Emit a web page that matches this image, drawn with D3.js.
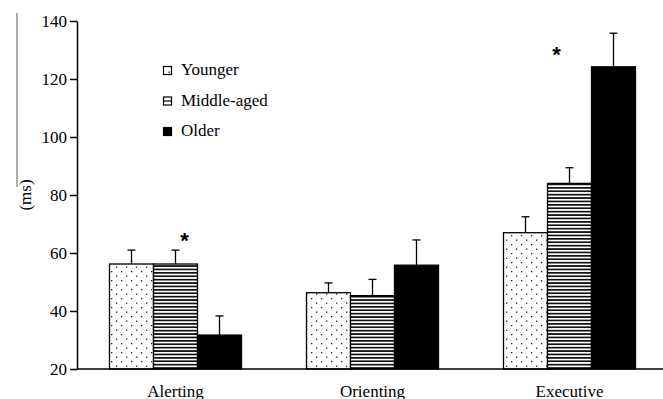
<!DOCTYPE html>
<html><head><meta charset="utf-8">
<script src="https://cdn.jsdelivr.net/npm/d3@7"></script>
<style>body{margin:0;background:#fff}svg{display:block}
svg text{font-family:"Liberation Serif","DejaVu Serif",serif;}
</style>
</head><body>
<svg id="c" width="663" height="399"></svg>
<script>
const categories = ["Alerting", "Orienting", "Executive"];
const groups = ["Younger", "Middle-aged", "Older"];
const younger = [56.2, 46.3, 67.0];
const youngerErr = [61.0, 49.7, 72.5];
const middle = [56.2, 45.3, 84.0];
const middleErr = [61.0, 50.9, 89.4];
const older = [31.7, 55.8, 124.2];
const olderErr = [38.3, 64.5, 135.8];
const yTicks = [20, 40, 60, 80, 100, 120, 140];
const significant = ["Alerting", "Executive"];

const svg = d3.select("#c");
const font = '"Liberation Serif", "DejaVu Serif", serif';
const y = d3.scaleLinear().domain([20, 140]).range([369, 21]);
const x0 = d3.scaleBand().domain(categories).range([77, 668]).paddingInner(0.33).paddingOuter(0.165);
const x1 = d3.scaleBand().domain(groups).range([0, x0.bandwidth()]);

const defs = svg.append("defs");
const dots = defs.append("pattern").attr("id", "dots").attr("patternUnits", "userSpaceOnUse")
  .attr("width", 10).attr("height", 9);
dots.append("rect").attr("width", 10).attr("height", 9).attr("fill", "#fff");
dots.append("rect").attr("x", 1).attr("y", 1).attr("width", 1.3).attr("height", 1.3).attr("fill", "#222");
dots.append("rect").attr("x", 6).attr("y", 5.5).attr("width", 1.3).attr("height", 1.3).attr("fill", "#222");
const lines = defs.append("pattern").attr("id", "lines").attr("patternUnits", "userSpaceOnUse")
  .attr("width", 8).attr("height", 3.4);
lines.append("rect").attr("width", 8).attr("height", 3.4).attr("fill", "#fff");
lines.append("rect").attr("y", 0).attr("width", 8).attr("height", 1.7).attr("fill", "#111");

const fills = {"Younger": "url(#dots)", "Middle-aged": "url(#lines)", "Older": "#000"};
const vals = {"Younger": younger, "Middle-aged": middle, "Older": older};
const errs = {"Younger": youngerErr, "Middle-aged": middleErr, "Older": olderErr};

const data = [];
categories.forEach((c, i) => groups.forEach(g => data.push({c, g, v: vals[g][i], e: errs[g][i]})));

// error bars
const eb = svg.append("g").attr("stroke", "#000").attr("stroke-width", 1.3);
data.forEach(d => {
  const cx = x0(d.c) + x1(d.g) + x1.bandwidth() / 2;
  eb.append("line").attr("x1", cx).attr("x2", cx).attr("y1", y(d.v)).attr("y2", y(d.e));
  eb.append("line").attr("x1", cx - 4).attr("x2", cx + 4).attr("y1", y(d.e)).attr("y2", y(d.e));
});

// bars
svg.append("g").selectAll("rect").data(data).join("rect")
  .attr("x", d => x0(d.c) + x1(d.g))
  .attr("y", d => y(d.v))
  .attr("width", x1.bandwidth())
  .attr("height", d => y(20) - y(d.v))
  .attr("fill", d => fills[d.g])
  .attr("stroke", "#000").attr("stroke-width", 1.3);

// y axis
const ya = svg.append("g").attr("transform", "translate(77,0)")
  .call(d3.axisLeft(y).tickValues(yTicks).tickSize(7).tickPadding(3).tickSizeOuter(0));
ya.attr("font-family", null);
ya.select(".domain").attr("stroke-width", 1.5);
ya.selectAll(".tick line").attr("stroke-width", 1.5);
ya.selectAll("text").style("font-family", font).style("font-size", "17px").attr("fill", "#000");

// x axis
const xa = svg.append("g").attr("transform", "translate(0,369)")
  .call(d3.axisBottom(x0).tickSize(0).tickPadding(16));
xa.attr("font-family", null);
xa.select(".domain").attr("d", "M77,0H663").attr("stroke-width", 1.5);
xa.selectAll("text").style("font-family", font).style("font-size", "17px").attr("fill", "#000");

// y label
svg.append("line").attr("x1", 17).attr("x2", 17).attr("y1", 13).attr("y2", 187)
  .attr("stroke", "#777").attr("stroke-width", 1.2);
svg.append("text").attr("transform", "translate(31,195) rotate(-90)")
  .attr("text-anchor", "middle").style("font-family", font).style("font-size", "17px").text("(ms)");

// significance
const astOffset = {"Alerting": 9, "Executive": -13};
const astY = {"Alerting": 66, "Executive": 130};
significant.forEach(c => {
  const mx = x0(c) + x1("Middle-aged") + x1.bandwidth() / 2 + astOffset[c];
  svg.append("text").attr("x", mx).attr("y", y(astY[c]) + 12)
    .attr("text-anchor", "middle").style("font-family", '"Liberation Sans", sans-serif')
    .style("font-weight", "bold").style("font-size", "22px").text("*");
});

// legend
const lg = svg.append("g").attr("transform", "translate(163,0)");
groups.forEach((g, i) => {
  const by = 75 + i * 30.5;
  lg.append("rect").attr("x", 0.5).attr("y", by - 8.5).attr("width", 8).attr("height", 8)
    .attr("fill", g === "Older" ? "#000" : "#fff").attr("stroke", "#000").attr("stroke-width", 1.2);
  if (g === "Younger") {
    lg.append("rect").attr("x", 5.5).attr("y", by - 3.5).attr("width", 1.3).attr("height", 1.3).attr("fill", "#000");
  } else if (g === "Middle-aged") {
    lg.append("line").attr("x1", 0.5).attr("x2", 8.5).attr("y1", by - 4.5).attr("y2", by - 4.5).attr("stroke", "#000").attr("stroke-width", 1.2);
  }
  lg.append("text").attr("x", 18).attr("y", by).style("font-family", font).style("font-size", "17px").text(g);
});
</script>
</body></html>
